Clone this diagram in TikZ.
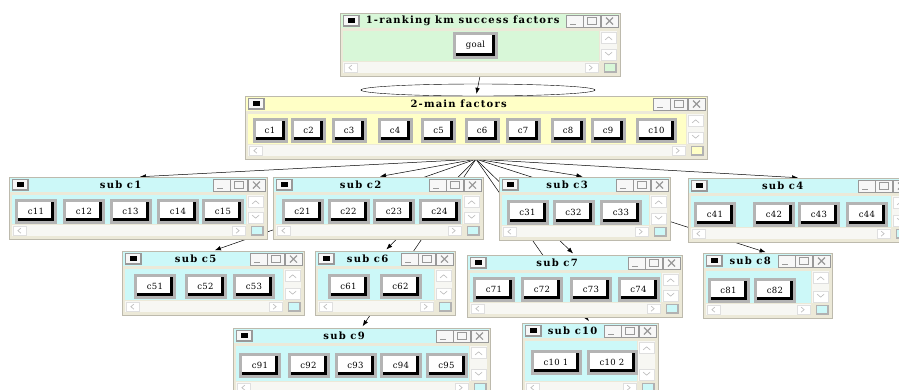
\documentclass[tikz,border=0pt]{standalone}
\usepackage{fontspec}
\newfontfamily\titlefont[LetterSpace=12]{DejaVu Serif}
\newfontfamily\btnfont[LetterSpace=4]{DejaVu Serif}
\usetikzlibrary{positioning,calc,fit,backgrounds,shapes.geometric,arrows.meta}

\definecolor{frmcol}{HTML}{ECE9D8}
\definecolor{scrcol}{HTML}{F7F7F3}
\definecolor{subcol}{HTML}{CCF8F8}
\definecolor{topcol}{HTML}{D8F7D8}
\definecolor{maincol}{HTML}{FFFFC6}
\definecolor{btngray}{HTML}{B4B4B4}

% one framed window: name, x1, y1, x2, y2, colour, title
\newcommand{\win}[7]{%
  \node[winframe, fit={(#2,#3) (#4,#5)}] (#1) {};
  % title bar and client area
  \fill[#6] ([shift={(1pt,-1pt)}]#1.north west) rectangle ([shift={(-1pt,-15pt)}]#1.north east);
  \fill[#6] ([shift={(3pt,-18pt)}]#1.north west) rectangle ([shift={(-21pt,15pt)}]#1.south east);
  % scroll bars
  \fill[scrcol] ([shift={(-20pt,-18pt)}]#1.north east) rectangle ([shift={(-3pt,15pt)}]#1.south east);
  \fill[scrcol] ([shift={(3pt,14pt)}]#1.south west) rectangle ([shift={(-21pt,3pt)}]#1.south east);
  \draw[chevbox] ([shift={(-19pt,-19pt)}]#1.north east) rectangle ++(15pt,-11pt);
  \draw[chev] ([shift={(-15pt,-27pt)}]#1.north east) -- ++(3.5pt,3pt) -- ++(3.5pt,-3pt);
  \draw[chevbox] ([shift={(-19pt,16pt)}]#1.south east) rectangle ++(15pt,11pt);
  \draw[chev] ([shift={(-15pt,24pt)}]#1.south east) -- ++(3.5pt,-3pt) -- ++(3.5pt,3pt);
  \draw[chevbox] ([shift={(4pt,4pt)}]#1.south west) rectangle ++(13pt,9pt);
  \draw[chev] ([shift={(12pt,11pt)}]#1.south west) -- ++(-3pt,-2.5pt) -- ++(3pt,-2.5pt);
  \draw[chevbox] ([shift={(-22pt,4pt)}]#1.south east) rectangle ++(-13pt,9pt);
  \draw[chev] ([shift={(-31pt,11pt)}]#1.south east) -- ++(3pt,-2.5pt) -- ++(-3pt,-2.5pt);
  \node[corner, fill=#6, anchor=south east] (#1-corner) at ([shift={(-4pt,4pt)}]#1.south east) {};
  % title bar controls
  \node[menubtn, anchor=north west] (#1-menu) at ([shift={(3pt,-2pt)}]#1.north west) {};
  \node[tbtn, closebtn, anchor=north east] (#1-close) at ([shift={(-2pt,-2pt)}]#1.north east) {};
  \node[tbtn, maxbtn, anchor=north east] (#1-max) at (#1-close.north west) {};
  \node[tbtn, minbtn, anchor=north east] (#1-min) at (#1-max.north west) {};
  \node[wtitle] (#1-title) at ($(#1-menu.east)!0.5!(#1-min.west)$) {#7};
}

\begin{document}
\begin{tikzpicture}[x=1pt, y=-1pt,
  winframe/.style={inner sep=0pt, fill=frmcol, draw=frmcol!80!black, line width=0.3pt},
  btn/.style={minimum width=42pt, minimum height=25pt, inner sep=0pt, fill=btngray,
    font=\fontsize{8.5}{10}\btnfont,
    path picture={
      \fill[black] ([shift={(3pt,3pt)}]path picture bounding box.south west)
        rectangle ([shift={(-3pt,-3pt)}]path picture bounding box.north east);
      \fill[white] ([shift={(3pt,6pt)}]path picture bounding box.south west)
        rectangle ([shift={(-6pt,-3pt)}]path picture bounding box.north east);}},
  wtitle/.style={inner sep=0pt, font=\fontsize{10}{12}\titlefont\bfseries},
  tbtn/.style={minimum width=17pt, minimum height=12pt, inner sep=0pt, fill=gray!6,
    draw=gray!80, line width=0.4pt},
  minbtn/.style={path picture={
      \draw[line width=1.5pt] ([shift={(4pt,2.5pt)}]path picture bounding box.south west) -- ++(6pt,0);}},
  maxbtn/.style={path picture={
      \draw[line width=0.8pt] ([shift={(4pt,2.5pt)}]path picture bounding box.south west) rectangle ++(9pt,7pt);
      \draw[line width=1.4pt] ([shift={(4pt,9.5pt)}]path picture bounding box.south west) -- ++(9pt,0);}},
  closebtn/.style={path picture={
      \draw[line width=1.2pt] ([shift={(5pt,2.5pt)}]path picture bounding box.south west)
        -- ++(7pt,7pt) ++(-7pt,0) -- ++(7pt,-7pt);}},
  menubtn/.style={minimum width=16pt, minimum height=11pt, inner sep=0pt, fill=gray!6,
    draw=gray!80, line width=0.4pt,
    path picture={
      \fill[black] ([shift={(-3.5pt,-2.5pt)}]path picture bounding box.center) rectangle ++(7pt,5pt);
      \draw[line width=1.6pt] (path picture bounding box.north east) -- (path picture bounding box.south east)
        -- (path picture bounding box.south west);}},
  corner/.style={minimum width=12pt, minimum height=9pt, inner sep=0pt, draw=gray!60,
    path picture={
      \draw[line width=2pt] (path picture bounding box.north east) -- (path picture bounding box.south east)
        -- (path picture bounding box.south west);}},
  chev/.style={gray!55, line width=0.6pt},
  chevbox/.style={draw=gray!25, fill=white},
  arr/.style={-{Latex[length=6pt, width=4.5pt]}, line width=0.5pt, shorten >=2pt}
  ]
  \useasboundingbox (0,0) rectangle (899,389);
  \clip (0,0) rectangle (899,389);

  % windows
  \win{top}{340}{13}{620}{76}{topcol}{1-ranking km success factors}
  \win{main}{245}{96}{707}{159}{maincol}{2-main factors}
  \win{s1}{9}{177}{267}{239}{subcol}{sub c1}
  \win{s2}{273}{177}{483}{239}{subcol}{sub c2}
  \win{s3}{499}{177}{670}{240}{subcol}{sub c3}
  \win{s4}{688}{178}{912}{242}{subcol}{sub c4}
  \win{s5}{122}{251}{304}{315}{subcol}{sub c5}
  \win{s6}{315}{251}{455}{315}{subcol}{sub c6}
  \win{s7}{467}{255}{682}{317}{subcol}{sub c7}
  \win{s8}{703}{253}{832}{318}{subcol}{sub c8}
  \win{s9}{233}{328}{490}{396}{subcol}{sub c9}
  \win{s10}{522}{323}{658}{396}{subcol}{sub c10}

  % buttons
  \node[btn, minimum width=45pt, minimum height=27pt] (goal) at (475.5,45.5) {goal};
  \foreach \i/\x in {1/270,2/308.5,3/349,4/395,5/438.5,6/482,7/523,8/568,9/608}
    \node[btn, minimum width=35pt] (c\i) at (\x,130.5) {c\i};
  \node[btn, minimum width=41pt] (c10) at (656.5,130.5) {c10};
  \foreach \i/\x in {11/36,12/84,13/130.5,14/178,15/223}
    \node[btn] (c\i) at (\x,211.5) {c\i};
  \foreach \i/\x in {21/302.5,22/348.5,23/394,24/439.5}
    \node[btn] (c\i) at (\x,211) {c\i};
  \foreach \i/\x in {31/527.5,32/573.5,33/621}
    \node[btn] (c\i) at (\x,212.5) {c\i};
  \foreach \i/\x in {41/715,42/774,43/819,44/867}
    \node[btn] (c\i) at (\x,214.5) {c\i};
  \foreach \i/\x in {51/155,52/205.5,53/254}
    \node[btn] (c\i) at (\x,286.5) {c\i};
  \foreach \i/\x in {61/348.5,62/400.5}
    \node[btn] (c\i) at (\x,286.5) {c\i};
  \foreach \i/\x in {71/494,72/542,73/591,74/638.5}
    \node[btn] (c\i) at (\x,289.5) {c\i};
  \foreach \i/\x in {81/728.5,82/775}
    \node[btn] (c\i) at (\x,290.5) {c\i};
  \foreach \i/\x in {91/260,92/308.5,93/355.5,94/401,95/446.5}
    \node[btn] (c\i) at (\x,365.5) {c\i};
  \node[btn, minimum width=51pt] (c10-1) at (556,362) {c10 1};
  \node[btn, minimum width=51pt] (c10-2) at (612,362) {c10 2};

  % links, behind the windows
  \begin{pgfonlayer}{background}
    \fill[white] (0,0) rectangle (899,389);
    \node[draw, ellipse, minimum width=234pt, minimum height=12pt, inner sep=0pt] (grp) at (478,90) {};
    \draw[arr] (top.south) -- (main.north);
    \foreach \i in {1,...,10}
      \draw[arr] (main.south) -- (s\i.north);
  \end{pgfonlayer}
\end{tikzpicture}
\end{document}
